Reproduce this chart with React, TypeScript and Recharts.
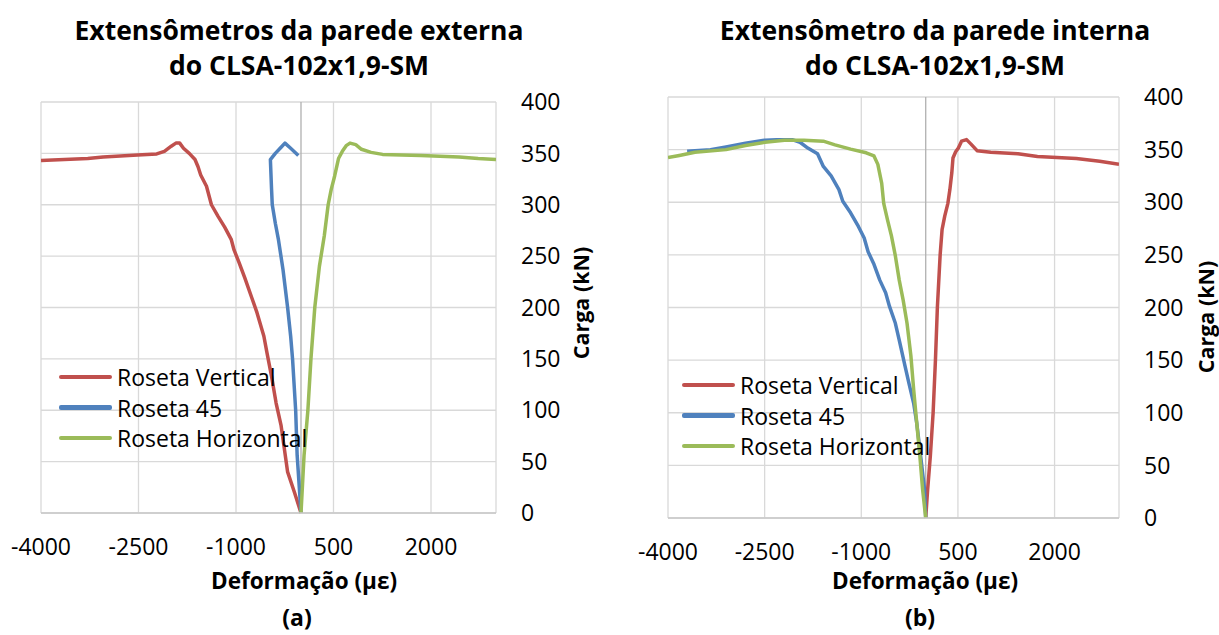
import React from "react";
import { LineChart, Line, XAxis, YAxis, CartesianGrid, ReferenceLine, Legend } from "recharts";

const RED = "#C0504D";
const BLUE = "#4F81BD";
const GREEN = "#9BBB59";
const GRID = "#d9d9d9";
const FONT = "'Open Sans', sans-serif";

const xTicks = [-4000, -2500, -1000, 500, 2000];
const yTicks = [0, 50, 100, 150, 200, 250, 300, 350, 400];

// (a) parede externa: [deformação με, carga kN]
const extVertical = [
  [0, 0], [-100, 20], [-206, 40], [-306, 85], [-383, 107], [-453, 133], [-524, 156], [-571, 172],
  [-677, 195], [-760, 210], [-866, 229], [-954, 244], [-1030, 256], [-1072, 266], [-1172, 278],
  [-1278, 289], [-1378, 300], [-1454, 318], [-1543, 329], [-1584, 337], [-1631, 344], [-1719, 350],
  [-1808, 355], [-1866, 360], [-1925, 360], [-1996, 357], [-2102, 352], [-2220, 349.5],
  [-2514, 348.5], [-3044, 346.5], [-3280, 345], [-4000, 343],
];
const ext45 = [
  [0, 0], [-59, 56], [-82, 100], [-130, 150], [-159, 172], [-206, 200], [-277, 237], [-347, 266],
  [-395, 282], [-442, 300], [-453, 315], [-471, 344], [-395, 350], [-306, 356], [-247, 360],
  [-159, 355], [-41, 348],
];
const extHorizontal = [
  [0, 0], [47, 56], [106, 100], [153, 150], [212, 200], [283, 240], [359, 270], [418, 300],
  [465, 315], [518, 328], [577, 345], [636, 352], [695, 357.5], [754, 360], [842, 358.5],
  [930, 354], [1078, 351], [1254, 349], [1843, 348], [2432, 346.5], [2726, 345], [3000, 344],
];

// (b) parede interna
const intVertical = [
  [0, 0], [30, 27], [72, 59], [115, 100], [151, 150], [181, 200], [224, 250], [254, 274],
  [296, 287], [344, 299], [375, 312], [405, 328], [423, 342], [465, 348], [507, 351.5],
  [556, 358], [634, 359.5], [707, 355], [797, 349], [1009, 347.5], [1432, 346], [1734, 343.5],
  [2338, 341.5], [2700, 339], [3000, 336],
];
const int45 = [
  [0, 0], [-18, 27], [-79, 59], [-139, 90], [-187, 109], [-260, 128], [-320, 144], [-411, 169],
  [-471, 185], [-562, 201], [-622, 214], [-713, 226], [-803, 241], [-894, 253], [-955, 266],
  [-1045, 277], [-1166, 290], [-1287, 301], [-1347, 312], [-1468, 325], [-1589, 334],
  [-1679, 346], [-1830, 351.5], [-1951, 357], [-2072, 359.5], [-2314, 359.5], [-2495, 359],
  [-2797, 356], [-3099, 352.5], [-3341, 350], [-3703, 348.5],
];
const intHorizontal = [
  [0, 0], [-48, 27], [-91, 59], [-139, 90], [-187, 122], [-230, 154], [-290, 185], [-350, 207],
  [-411, 226], [-471, 249], [-532, 268], [-592, 283], [-652, 299], [-683, 318], [-743, 336],
  [-803, 344], [-924, 347], [-1166, 350.5], [-1408, 354.5], [-1589, 358], [-1891, 359],
  [-2193, 359], [-2495, 357], [-2797, 354], [-3099, 350], [-3582, 347.5], [-3824, 344.5],
  [-4000, 342.5],
];

const seriesNames = ["Roseta Vertical", "Roseta 45", "Roseta Horizontal"];
const seriesColors = [RED, BLUE, GREEN];

const toPoints = (arr: number[][]) => arr.map(([x, y]) => ({ x, y }));

type Series = { name: string; color: string; data: number[][] };

// legenda na ordem das séries (o Legend do recharts ordena por nome)
const makeLegend = (series: Series[]) => () => (
  <div style={{ fontFamily: FONT, fontSize: 23, color: "#000" }}>
    {series.map((s) => (
      <div key={s.name} style={{ display: "flex", alignItems: "center", height: 30.7 }}>
        <div style={{ width: 53, height: 4.5, background: s.color, borderRadius: 2, marginRight: 5 }} />
        <span style={{ whiteSpace: "nowrap", lineHeight: "30px" }}>{s.name}</span>
      </div>
    ))}
  </div>
);

const StrainChart = ({ left, width, margin, series, legendLeft, legendTop }: {
  left: number; width: number; margin: any; series: Series[]; legendLeft: number; legendTop: number;
}) => (
  <div style={{ position: "absolute", left, top: 0 }}>
    <LineChart width={width} height={635} margin={margin}>
      <CartesianGrid stroke={GRID} strokeWidth={1.3} />
      <XAxis
        type="number"
        dataKey="x"
        domain={[-4000, 3000]}
        ticks={xTicks}
        allowDataOverflow
        height={40}
        tickLine={false}
        tickSize={0}
        tickMargin={26}
        axisLine={{ stroke: "#c8c8c8", strokeWidth: 1.5 }}
        tick={{ fontFamily: FONT, fontSize: 23, fill: "#000" }}
      />
      <YAxis
        type="number"
        orientation="right"
        domain={[0, 400]}
        ticks={yTicks}
        width={90}
        axisLine={false}
        tickLine={false}
        tickSize={0}
        tickMargin={25}
        tick={{ fontFamily: FONT, fontSize: 23, fill: "#000" }}
      />
      <ReferenceLine x={0} stroke="#b0b0b0" strokeWidth={1.3} />
      {series.map((s) => (
        <Line
          key={s.name}
          name={s.name}
          data={toPoints(s.data)}
          dataKey="y"
          type="linear"
          stroke={s.color}
          strokeWidth={3.5}
          strokeLinejoin="round"
          dot={false}
          isAnimationActive={false}
        />
      ))}
      <Legend
        layout="vertical"
        align="center"
        verticalAlign="middle"
        content={makeLegend(series)}
        wrapperStyle={{ left: legendLeft, top: legendTop, width: "auto" }}
      />
    </LineChart>
  </div>
);

const abs = (extra: React.CSSProperties): React.CSSProperties => ({
  position: "absolute",
  fontFamily: FONT,
  fontWeight: 700,
  color: "#000",
  textAlign: "center",
  whiteSpace: "nowrap",
  ...extra,
});

export default function App() {
  const extData = [extVertical, ext45, extHorizontal];
  const intData = [intVertical, int45, intHorizontal];
  const extSeries: Series[] = seriesNames.map((name, i) => ({ name, color: seriesColors[i], data: extData[i] }));
  const intSeries: Series[] = seriesNames.map((name, i) => ({ name, color: seriesColors[i], data: intData[i] }));

  return (
    <div style={{ position: "absolute", left: 0, top: 0, width: 1219, height: 635, background: "#fff", overflow: "hidden" }}>
      <StrainChart
        left={0}
        width={610}
        margin={{ top: 102, right: 24, bottom: 82, left: 41 }}
        series={extSeries}
        legendLeft={59}
        legendTop={361.5}
      />
      <StrainChart
        left={610}
        width={609}
        margin={{ top: 97, right: 10, bottom: 77, left: 58 }}
        series={intSeries}
        legendLeft={72}
        legendTop={369.5}
      />

      <div style={abs({ left: -1, top: 13, width: 600, fontSize: 26.5, lineHeight: "35px" })}>
        Extensômetros da parede externa<br />do CLSA-102x1,9-SM
      </div>
      <div style={abs({ left: 635, top: 13, width: 600, fontSize: 26.5, lineHeight: "35px" })}>
        Extensômetro da parede interna<br />do CLSA-102x1,9-SM
      </div>

      <div style={abs({ left: 204, top: 573, width: 200, fontSize: 22.5, lineHeight: "16px" })}>Deformação (με)</div>
      <div style={abs({ left: 825, top: 573, width: 200, fontSize: 22.5, lineHeight: "16px" })}>Deformação (με)</div>

      <div style={abs({ left: 257, top: 606, width: 80, fontSize: 23, lineHeight: "23px" })}>(a)</div>
      <div style={abs({ left: 880, top: 606, width: 80, fontSize: 23, lineHeight: "23px" })}>(b)</div>

      <div style={abs({ left: 581 - 60, top: 302.5 - 11, width: 120, height: 22, fontSize: 21.5, lineHeight: "22px", transform: "rotate(-90deg)" })}>
        Carga (kN)
      </div>
      <div style={abs({ left: 1206 - 60, top: 316.5 - 11, width: 120, height: 22, fontSize: 21.5, lineHeight: "22px", transform: "rotate(-90deg)" })}>
        Carga (kN)
      </div>
    </div>
  );
}
